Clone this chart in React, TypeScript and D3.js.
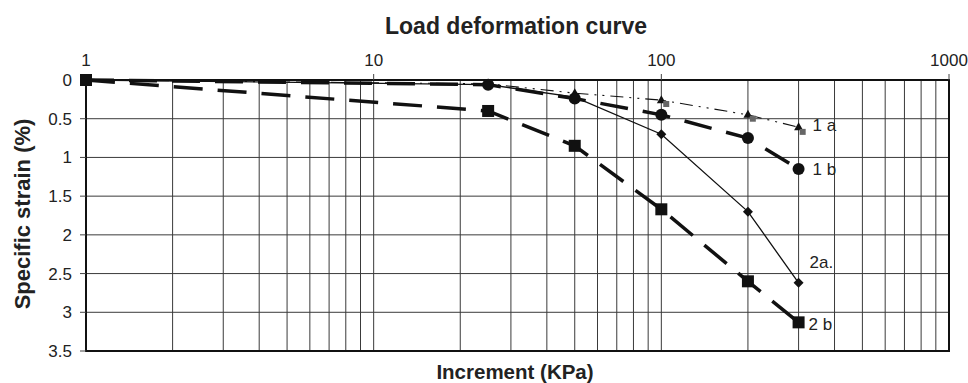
import React from "react";
import * as d3 from "d3";

// load increments (KPa) at which strain was read
const loads = [1, 25, 50, 100, 200, 300];
const strain1a = [0, 0.05, 0.17, 0.26, 0.45, 0.61];
const strain1b = [0, 0.06, 0.24, 0.45, 0.75, 1.15];
const strain2a = [0, 0.06, 0.22, 0.7, 1.7, 2.62];
const strain2b = [0, 0.4, 0.85, 1.67, 2.6, 3.13];
// faint grey squares sitting next to the 1 a triangles
const ghostLoads = [104, 208, 310];
const ghostStrain = [0.31, 0.5, 0.67];

const strainTicks = [0, 0.5, 1, 1.5, 2, 2.5, 3, 3.5];
const loadTicks = [1, 10, 100, 1000];

const font = "Arial, 'Liberation Sans', Helvetica, sans-serif";

export default function App() {
  const width = 968;
  const height = 383;
  const margin = {top: 80, right: 19, bottom: 32, left: 86};

  const x = d3.scaleLog().domain([1, 1000]).range([margin.left, width - margin.right]);
  const y = d3.scaleLinear().domain([0, 3.5]).range([margin.top, height - margin.bottom]);

  const line = d3.line<[number, number]>()
    .x(d => x(d[0]))
    .y(d => y(d[1]));

  const pts = (vals: number[]) => loads.map((l, i) => [l, vals[i]] as [number, number]);

  const series = [
    {key: "1 a", data: pts(strain1a), width: 1.1, dash: "13,6,2,6,2,6", marker: "triangle", dx: 14, dy: 4},
    {key: "1 b", data: pts(strain1b), width: 3.5, dash: "28,15", marker: "circle", dx: 14, dy: 6},
    {key: "2a.", data: pts(strain2a), width: 1.3, dash: null, marker: "diamond", dx: 11, dy: -15},
    {key: "2 b", data: pts(strain2b), width: 3.5, dash: "29,15", marker: "square", dx: 10, dy: 8},
  ];

  const minor = x.ticks();

  const marker = (type: string, cx: number, cy: number, k: string) => {
    if (type === "circle") return <circle key={k} cx={cx} cy={cy} r={6} fill="#111" />;
    if (type === "square") return <rect key={k} x={cx - 6} y={cy - 6} width={12} height={12} fill="#111" />;
    if (type === "diamond") return <path key={k} d={`M${cx},${cy - 5}L${cx + 5},${cy}L${cx},${cy + 5}L${cx - 5},${cy}Z`} fill="#111" />;
    return <path key={k} d={`M${cx},${cy - 5}L${cx + 4.5},${cy + 3}L${cx - 4.5},${cy + 3}Z`} fill="#111" />;
  };

  const x0 = x.range()[0], x1 = x.range()[1];
  const y0 = y.range()[0], y1 = y.range()[1];

  return (
    <svg width={width} height={height} style={{position: "absolute", left: 0, top: 0, background: "#fff"}}
         fontFamily={font}>
      <rect width={width} height={height} fill="#fff" />
      <text x={516} y={34} textAnchor="middle" fontSize={23} fontWeight="bold" fill="#222">
        Load deformation curve
      </text>

      {/* grid */}
      {minor.map((t, i) => (
        <line key={"v" + i} x1={x(t)} x2={x(t)} y1={y0} y2={y1} stroke="#3a3a3a" strokeWidth={1} />
      ))}
      {strainTicks.map((t, i) => (
        <line key={"h" + i} x1={x0} x2={x1} y1={y(t)} y2={y(t)} stroke="#3a3a3a" strokeWidth={1} />
      ))}

      {/* frame */}
      <rect x={x0} y={y0} width={x1 - x0} height={y1 - y0} fill="none" stroke="#111" strokeWidth={2} />

      {/* top axis */}
      {loadTicks.map((t, i) => (
        <g key={"xt" + i}>
          <line x1={x(t)} x2={x(t)} y1={y0} y2={y0 - 6} stroke="#444" />
          <text x={x(t)} y={y0 - 14} textAnchor="middle" fontSize={17} fill="#222">{t}</text>
        </g>
      ))}

      {/* left axis */}
      {strainTicks.map((t, i) => (
        <g key={"yt" + i}>
          <line x1={x0 - 6} x2={x0} y1={y(t)} y2={y(t)} stroke="#444" />
          <text x={x0 - 14} y={y(t)} dy="0.35em" textAnchor="end" fontSize={17} fill="#222">{t}</text>
        </g>
      ))}

      {/* series */}
      {series.map(s => (
        <g key={s.key}>
          <path d={line(s.data) ?? ""} fill="none" stroke="#111" strokeWidth={s.width}
                strokeDasharray={s.dash ?? undefined} />
          {s.data.map((d, i) => marker(s.marker, x(d[0]), y(d[1]), s.key + i))}
          <text x={x(s.data[s.data.length - 1][0]) + s.dx} y={y(s.data[s.data.length - 1][1]) + s.dy}
                fontSize={17} fill="#222">{s.key}</text>
        </g>
      ))}
      {ghostLoads.map((l, i) => (
        <rect key={"g" + i} x={x(l) - 3} y={y(ghostStrain[i]) - 3} width={6} height={6} fill="#666" />
      ))}

      <text x={515} y={379} textAnchor="middle" fontSize={20.5} fontWeight="bold" fill="#222">
        Increment (KPa)
      </text>
      <text transform={`translate(30, 214) rotate(-90)`} textAnchor="middle" fontSize={22}
            fontWeight="bold" fill="#222">
        Specific strain (%)
      </text>
    </svg>
  );
}
